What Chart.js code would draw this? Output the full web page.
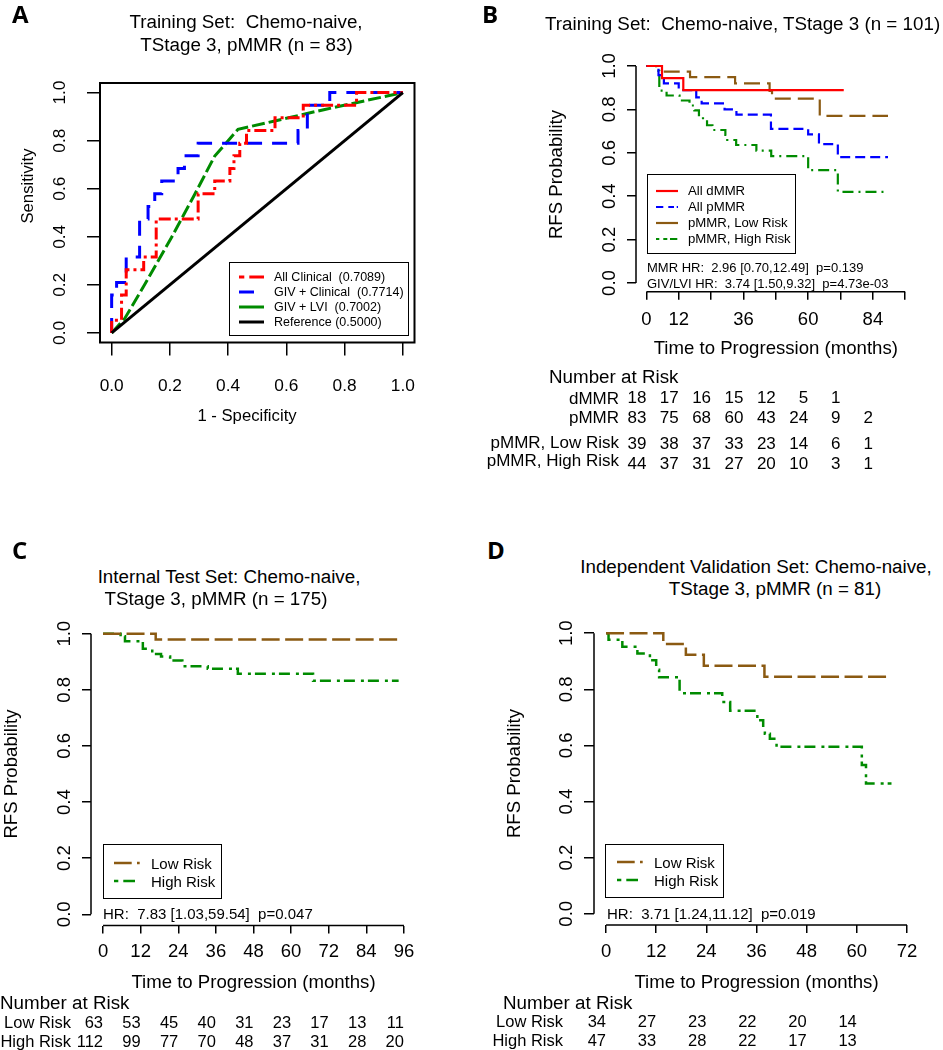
<!DOCTYPE html>
<html>
<head>
<meta charset="utf-8">
<script src="https://cdn.jsdelivr.net/npm/chart.js@4.4.1/dist/chart.umd.min.js"></script>
<style>
  body { margin: 0; background: #fff; }
  #page { position: relative; width: 943px; height: 1050px; overflow: hidden; background: #fff;
          font-family: "Liberation Sans", Arial, sans-serif; color: #000; }
  canvas { position: absolute; }
  .t { position: absolute; white-space: pre; line-height: 1; }
  .lg { position: absolute; border: 1.5px solid #000; box-sizing: border-box; }
  svg { position: absolute; overflow: visible; }
</style>
</head>
<body>
<div id="page"></div>
<script>
// ---- data ----
const probTicks = [0, 0.2, 0.4, 0.6, 0.8, 1.0];

// A: ROC curves (1 - specificity, sensitivity)
const rocFprClinical = [0, 0.034, 0.05, 0.11, 0.153, 0.297, 0.354, 0.406, 0.42, 0.44, 0.463, 0.561, 0.658, 0.841, 1.0];
const rocTprClinical = [0, 0.053, 0.158, 0.263, 0.316, 0.474, 0.579, 0.632, 0.684, 0.737, 0.789, 0.842, 0.895, 0.947, 1.0];
const rocFprGivClin = [0, 0.017, 0.05, 0.096, 0.125, 0.148, 0.172, 0.228, 0.25, 0.297, 0.64, 0.672, 0.749, 1.0];
const rocTprGivClin = [0, 0.158, 0.21, 0.316, 0.474, 0.526, 0.579, 0.632, 0.684, 0.737, 0.789, 0.842, 0.947, 1.0];
const rocFprGivLvi = [0, 0.045, 0.113, 0.205, 0.285, 0.354, 0.434, 0.56, 0.732, 1.0];
const rocTprGivLvi = [0, 0.06, 0.2, 0.396, 0.576, 0.736, 0.847, 0.882, 0.93, 1.0];
const rocFprRef = [0, 1];
const rocTprRef = [0, 1];
const rocLabels = ['All Clinical  (0.7089)', 'GIV + Clinical  (0.7714)', 'GIV + LVI  (0.7002)', 'Reference (0.5000)'];

// B: training set KM
const bTimeTicks = [0, 12, 24, 36, 48, 60, 72, 84, 96];
const bTimeLabels = [0, 12, 36, 60, 84];
const bTimeDmmr = [0, 5.8, 13.7, 73.2];
const bSurvDmmr = [1, 0.944, 0.889, 0.889];
const bTimePmmr = [0, 4.5, 6.5, 12, 18.5, 20.5, 29, 33.4, 46.2, 60, 64, 71, 89.6];
const bSurvPmmr = [1, 0.958, 0.92, 0.889, 0.855, 0.828, 0.80, 0.776, 0.71, 0.685, 0.64, 0.58, 0.58];
const bTimeLow = [0, 6.1, 16.2, 32.9, 45.7, 46.6, 64.3, 89.6];
const bSurvLow = [1, 0.974, 0.949, 0.92, 0.885, 0.85, 0.77, 0.77];
const bTimeHigh = [0, 3.6, 4.8, 7.5, 12.3, 16, 17.8, 19.5, 21, 22.5, 24.5, 29.3, 30, 33.3, 40.8, 46.3, 60, 71, 89.6];
const bSurvHigh = [1, 0.977, 0.886, 0.864, 0.841, 0.818, 0.795, 0.773, 0.75, 0.727, 0.705, 0.682, 0.659, 0.636, 0.61, 0.585, 0.52, 0.42, 0.42];
const bLabels = ['All dMMR', 'All pMMR', 'pMMR, Low Risk', 'pMMR, High Risk'];
const bRiskTimes = [0, 12, 24, 36, 48, 60, 72, 84];
const bRiskDmmr = [18, 17, 16, 15, 12, 5, 1];
const bRiskPmmr = [83, 75, 68, 60, 43, 24, 9, 2];
const bRiskLow = [39, 38, 37, 33, 23, 14, 6, 1];
const bRiskHigh = [44, 37, 31, 27, 20, 10, 3, 1];

// C: internal test set KM
const cTimeTicks = [0, 12, 24, 36, 48, 60, 72, 84, 96];
const cTimeLow = [0, 16.8, 94.3];
const cSurvLow = [1, 0.979, 0.979];
const cTimeHigh = [0, 5.6, 7, 12.7, 15.7, 18.5, 21.4, 25.3, 33.4, 43, 67, 94.3];
const cSurvHigh = [1, 0.991, 0.973, 0.946, 0.928, 0.919, 0.905, 0.884, 0.875, 0.857, 0.832, 0.832];
const cRiskLow = [63, 53, 45, 40, 31, 23, 17, 13, 11];
const cRiskHigh = [112, 99, 77, 70, 48, 37, 31, 28, 20];

// D: independent validation set KM
const dTimeTicks = [0, 12, 24, 36, 48, 60, 72];
const dTimeLow = [0, 13.7, 19.1, 23.4, 37.9, 67.2];
const dSurvLow = [1, 0.962, 0.923, 0.884, 0.845, 0.845];
const dTimeHigh = [0, 0.6, 3.9, 7.5, 10.5, 12, 12.7, 17.6, 27.8, 29.7, 36.2, 37.6, 38, 39.2, 40.8, 61.2, 62.2, 68.3];
const dSurvHigh = [1, 0.977, 0.952, 0.928, 0.904, 0.87, 0.843, 0.786, 0.755, 0.724, 0.69, 0.66, 0.642, 0.624, 0.595, 0.53, 0.464, 0.464];
const dRiskLow = [34, 27, 23, 22, 20, 14];
const dRiskHigh = [47, 33, 28, 22, 17, 13];

const riskLabels = ['Low Risk', 'High Risk'];

// ---- styling ----
const FONT = '"Liberation Sans", Arial, sans-serif';
const RED = '#ff0000', BLUE = '#0000ff', GREEN = '#008b00', BROWN = '#8b5a12', BLACK = '#000000';

const page = document.getElementById('page');

function text(str, x, y, size, align, extra) {
  const d = document.createElement('div');
  d.className = 't';
  d.textContent = str;
  d.style.left = x + 'px';
  d.style.top = y + 'px';
  d.style.fontSize = size + 'px';
  const dx = align === 'center' ? '-50%' : align === 'right' ? '-100%' : '0';
  d.style.transform = 'translate(' + dx + ',-50%)' + (extra && extra.rot ? ' rotate(-90deg)' : '');
  if (extra && extra.bold) { d.style.fontFamily = '"Open Sans", sans-serif'; d.style.fontWeight = 700; }
  page.appendChild(d);
  return d;
}

function legendBox(l, t, w, h) {
  const d = document.createElement('div');
  d.className = 'lg';
  Object.assign(d.style, { left: l + 'px', top: t + 'px', width: w + 'px', height: h + 'px' });
  page.appendChild(d);
}

function legendRow(x1, x2, y, color, dash, width, label, tx, size) {
  const ns = 'http://www.w3.org/2000/svg';
  const s = document.createElementNS(ns, 'svg');
  s.setAttribute('width', x2 - x1);
  s.setAttribute('height', 10);
  s.style.left = x1 + 'px';
  s.style.top = (y - 5) + 'px';
  const ln = document.createElementNS(ns, 'line');
  ln.setAttribute('x1', 0); ln.setAttribute('y1', 5);
  ln.setAttribute('x2', x2 - x1); ln.setAttribute('y2', 5);
  ln.setAttribute('stroke', color);
  ln.setAttribute('stroke-width', width);
  if (dash.length) ln.setAttribute('stroke-dasharray', dash.join(' '));
  s.appendChild(ln);
  page.appendChild(s);
  text(label, tx, y, size, 'left');
}

function makeCanvas(left, top, w, h) {
  const c = document.createElement('canvas');
  c.width = w; c.height = h;
  c.style.left = left + 'px'; c.style.top = top + 'px';
  c.style.width = w + 'px'; c.style.height = h + 'px';
  page.appendChild(c);
  return c;
}

const pts = (xs, ys) => xs.map((x, i) => ({ x: x, y: ys[i] }));

function line(data, color, dash, width, stepped) {
  return { data: data, borderColor: color, borderDash: dash, borderWidth: width, stepped: stepped,
           showLine: true, pointRadius: 0, fill: false, tension: 0, borderCapStyle: 'butt' };
}

function noPad(s) { s.paddingLeft = 0; s.paddingRight = 0; s.paddingTop = 0; s.paddingBottom = 0; }

function xScale(o) {
  return {
    type: 'linear', position: 'bottom', min: o.min, max: o.max, bounds: 'data',
    afterBuildTicks: s => { s.ticks = o.ticks.map(v => ({ value: v })); },
    afterFit: s => { s.height = o.size; noPad(s); },
    border: { display: false },
    grid: { drawOnChartArea: false, drawTicks: true, tickLength: o.tick, color: '#000', lineWidth: 1.5 },
    ticks: { autoSkip: false, maxRotation: 0, minRotation: 0, padding: o.pad, color: '#000',
             font: { family: FONT, size: o.font }, callback: o.fmt },
    title: o.title ? { display: true, text: o.title, color: '#000', font: { family: FONT, size: 18.6 },
                       padding: { top: 0, bottom: o.titlePad } } : { display: false }
  };
}

function yScale(o) {
  return {
    type: 'linear', position: 'left', min: -0.04, max: 1.04, bounds: 'data',
    afterBuildTicks: s => { s.ticks = probTicks.map(v => ({ value: v })); },
    afterFit: s => { s.width = o.size; noPad(s); },
    border: { display: false },
    grid: { drawOnChartArea: false, drawTicks: true, tickLength: o.tick, color: '#000', lineWidth: 1.5 },
    ticks: { autoSkip: false, minRotation: 90, maxRotation: 90, crossAlign: 'center', padding: o.pad,
             color: '#000', font: { family: FONT, size: o.font }, callback: v => v.toFixed(1) },
    title: o.title ? { display: true, text: o.title, color: '#000', font: { family: FONT, size: 18.6 },
                       padding: { top: o.titlePad, bottom: 0 } } : { display: false }
  };
}

// R-style axis lines: a full box for the ROC plot, open axes for the KM plots
const rAxes = {
  id: 'rAxes',
  afterDraw(chart, args, o) {
    const { ctx, chartArea: a, scales: { x, y } } = chart;
    ctx.save();
    ctx.strokeStyle = '#000';
    ctx.beginPath();
    if (o.box) {
      ctx.lineWidth = 2;
      ctx.rect(a.left, a.top, a.right - a.left, a.bottom - a.top);
    } else {
      ctx.lineWidth = 1.5;
      ctx.moveTo(x.getPixelForValue(o.xFrom), a.bottom);
      ctx.lineTo(x.getPixelForValue(o.xTo), a.bottom);
      ctx.moveTo(a.left, y.getPixelForValue(0));
      ctx.lineTo(a.left, y.getPixelForValue(1));
    }
    ctx.stroke();
    ctx.restore();
  }
};

function makeChart(canvas, datasets, scales, padding, axes) {
  return new Chart(canvas, {
    type: 'scatter',
    data: { datasets: datasets },
    options: {
      responsive: false, animation: false, devicePixelRatio: 1, events: [],
      layout: { padding: padding },
      scales: scales,
      plugins: { legend: { display: false }, tooltip: { enabled: false }, rAxes: axes }
    },
    plugins: [rAxes]
  });
}

function riskRow(chart, left, times, values, y, size) {
  values.forEach((v, i) => {
    text(String(v), left + chart.scales.x.getPixelForValue(times[i]), y, size, 'right');
  });
}

// ---------- Panel A ----------
const cvA = makeCanvas(0, 0, 470, 410);
makeChart(cvA, [
  line(pts(rocFprRef, rocTprRef), BLACK, [], 3, false),
  line(pts(rocFprClinical, rocTprClinical), RED, [12, 4, 3, 4], 3, 'after'),
  line(pts(rocFprGivClin, rocTprGivClin), BLUE, [15, 10], 3, 'after'),
  line(pts(rocFprGivLvi, rocTprGivLvi), GREEN, [13, 4], 3, false)
], {
  x: xScale({ min: -0.04, max: 1.04, ticks: probTicks, size: 67.5, tick: 13, pad: 20, font: 17.3, fmt: v => v.toFixed(1) }),
  y: yScale({ size: 100, tick: 13, pad: 15, font: 17.3 })
}, { left: 0, top: 83, right: 55.5, bottom: 0 }, { box: true });

text('A', 12, 13.5, 24, 'left', { bold: true });
text('Training Set:  Chemo-naive,', 246, 22, 18.8, 'center');
text('TStage 3, pMMR (n = 83)', 246.5, 45, 18.8, 'center');
text('Sensitivity', 28, 186, 16.7, 'center', { rot: true });
text('1 - Specificity', 247, 416, 16.7, 'center');
legendBox(229, 262, 180, 74);
legendRow(239, 264, 277, RED, [5.3, 5, 15, 99], 3, rocLabels[0], 274, 12.5);
legendRow(239, 264, 292, BLUE, [15, 99], 3, rocLabels[1], 274, 12.5);
legendRow(239, 264, 307, GREEN, [], 3, rocLabels[2], 274, 12.5);
legendRow(239, 264, 322, BLACK, [], 3, rocLabels[3], 274, 12.5);

// ---------- Panel B ----------
const cvB = makeCanvas(470, 0, 473, 370);
const chB = makeChart(cvB, [
  line(pts(bTimeDmmr, bSurvDmmr), RED, [], 2.2, true),
  line(pts(bTimePmmr, bSurvPmmr), BLUE, [10, 5], 2.2, true),
  line(pts(bTimeLow, bSurvLow), BROWN, [16, 7], 2.2, true),
  line(pts(bTimeHigh, bSurvHigh), GREEN, [11, 5, 2, 5], 2.2, true)
], {
  x: xScale({ min: -3.84, max: 99.84, ticks: bTimeTicks, size: 78.3, tick: 8, pad: 9.2, font: 18.5,
              fmt: v => (bTimeLabels.includes(v) ? String(v) : ''),
              title: 'Time to Progression (months)', titlePad: 9.8 }),
  y: yScale({ size: 166, tick: 9, pad: 4, font: 18.5, title: 'RFS Probability', titlePad: 75.8 })
}, { left: 0, top: 57.3, right: 27.4, bottom: 0 }, { box: false, xFrom: 0, xTo: 96 });

text('B', 482, 13.5, 24, 'left', { bold: true });
text('Training Set:  Chemo-naive, TStage 3 (n = 101)', 545, 24, 18.8, 'left');
legendBox(647, 174, 149, 80);
legendRow(656, 678, 191, RED, [], 2.2, bLabels[0], 688, 13.2);
legendRow(656, 678, 207, BLUE, [7.3, 5, 5.7, 2.7, 1.7, 99], 2.2, bLabels[1], 688, 13.2);
legendRow(656, 678, 223, BROWN, [], 2.2, bLabels[2], 688, 13.2);
legendRow(656, 678, 239, GREEN, [3.3, 4, 4, 2.7, 7.3, 99], 2.2, bLabels[3], 688, 13.2);
text('MMR HR:  2.96 [0.70,12.49]  p=0.139', 647, 267, 13, 'left');
text('GIV/LVI HR:  3.74 [1.50,9.32]  p=4.73e-03', 647, 283, 13, 'left');

text('Number at Risk', 549, 377, 18.8, 'left');
text('dMMR', 619, 397.5, 17, 'right');
text('pMMR', 619, 417, 17, 'right');
text(bLabels[2], 619, 442, 17, 'right');
text(bLabels[3], 619, 460, 17, 'right');
riskRow(chB, 470, bRiskTimes, bRiskDmmr, 397, 17);
riskRow(chB, 470, bRiskTimes, bRiskPmmr, 417, 17);
riskRow(chB, 470, bRiskTimes, bRiskLow, 443, 17);
riskRow(chB, 470, bRiskTimes, bRiskHigh, 463, 17);

// ---------- Panel C ----------
const cvC = makeCanvas(0, 600, 470, 400);
const chC = makeChart(cvC, [
  line(pts(cTimeLow, cSurvLow), BROWN, [18, 5.5], 2.5, true),
  line(pts(cTimeHigh, cSurvHigh), GREEN, [11, 6, 3, 4], 2.5, true)
], {
  x: xScale({ min: -3.84, max: 99.84, ticks: cTimeTicks, size: 74.5, tick: 8, pad: 7.4, font: 18.5,
              fmt: v => String(v), title: 'Time to Progression (months)', titlePad: 5.8 }),
  y: yScale({ size: 91, tick: 9, pad: 4, font: 18.5, title: 'RFS Probability', titlePad: 0.8 })
}, { left: 0, top: 22.5, right: 54, bottom: 0 }, { box: false, xFrom: 0, xTo: 96 });

text('C', 12, 549.5, 24, 'left', { bold: true });
text('Internal Test Set: Chemo-naive,', 229, 577, 18.8, 'center');
text('TStage 3, pMMR (n = 175)', 216, 599, 18.8, 'center');
legendBox(103, 844, 119, 55);
legendRow(114, 140, 863, BROWN, [17.7, 5.3, 2.7, 99], 2.5, riskLabels[0], 151, 15);
legendRow(114, 140, 881, GREEN, [4.3, 5, 11.7, 99], 2.5, riskLabels[1], 151, 15);
text('HR:  7.83 [1.03,59.54]  p=0.047', 103, 913, 15, 'left');

text('Number at Risk', 0, 1003, 18.8, 'left');
text(riskLabels[0], 71, 1022, 16.5, 'right');
text(riskLabels[1], 71, 1041, 16.5, 'right');
riskRow(chC, 0, cTimeTicks, cRiskLow, 1022, 16.5);
riskRow(chC, 0, cTimeTicks, cRiskHigh, 1041, 16.5);

// ---------- Panel D ----------
const cvD = makeCanvas(470, 600, 473, 400);
const chD = makeChart(cvD, [
  line(pts(dTimeLow, dSurvLow), BROWN, [18, 5.5], 2.5, true),
  line(pts(dTimeHigh, dSurvHigh), GREEN, [11, 6, 3, 4], 2.5, true)
], {
  x: xScale({ min: -2.88, max: 74.88, ticks: dTimeTicks, size: 75, tick: 8, pad: 7.4, font: 18.5,
              fmt: v => String(v), title: 'Time to Progression (months)', titlePad: 5.8 }),
  y: yScale({ size: 124, tick: 10, pad: 4, font: 18.5, title: 'RFS Probability', titlePad: 33.8 })
}, { left: 0, top: 22, right: 24, bottom: 0 }, { box: false, xFrom: 0, xTo: 72 });

text('D', 487, 549.5, 24, 'left', { bold: true });
text('Independent Validation Set: Chemo-naive,', 756, 566.5, 18.8, 'center');
text('TStage 3, pMMR (n = 81)', 775, 589, 18.8, 'center');
legendBox(605, 844, 119, 54);
legendRow(617, 643, 862, BROWN, [17.7, 5.3, 2.7, 99], 2.5, riskLabels[0], 654, 15);
legendRow(617, 643, 880, GREEN, [4.3, 5, 11.7, 99], 2.5, riskLabels[1], 654, 15);
text('HR:  3.71 [1.24,11.12]  p=0.019', 607, 913, 15, 'left');

text('Number at Risk', 503, 1003, 18.8, 'left');
text(riskLabels[0], 563, 1021, 16.5, 'right');
text(riskLabels[1], 563, 1040, 16.5, 'right');
riskRow(chD, 470, dTimeTicks, dRiskLow, 1021, 16.5);
riskRow(chD, 470, dTimeTicks, dRiskHigh, 1040, 16.5);
</script>
</body>
</html>
